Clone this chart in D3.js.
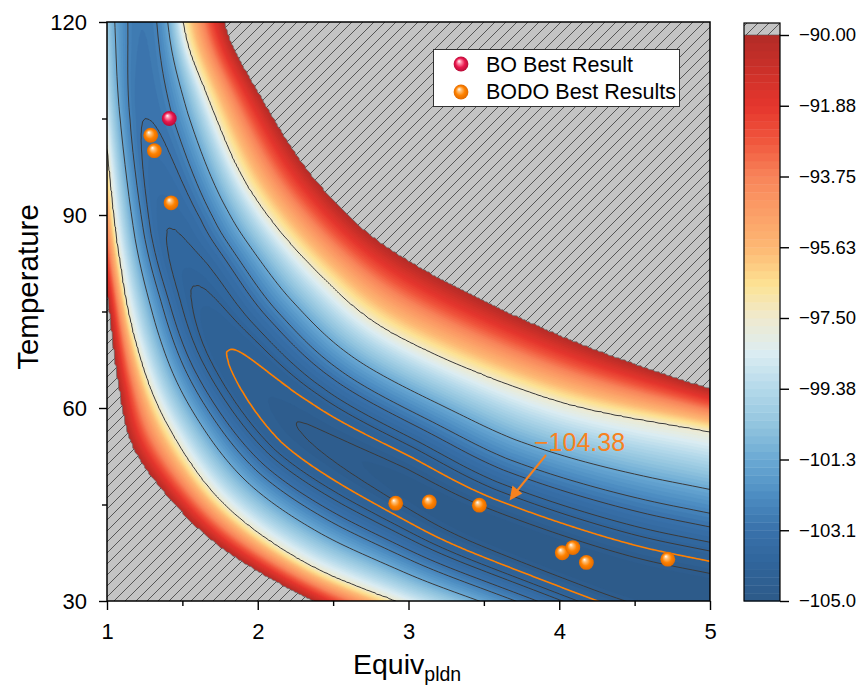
<!DOCTYPE html>
<html>
<head>
<meta charset="utf-8">
<script src="https://cdn.jsdelivr.net/npm/d3@7"></script>
<style>
  body { margin: 0; background: #fff; }
  svg text { font-family: "Liberation Sans", Arial, sans-serif; fill: #000; }
</style>
</head>
<body>
<svg id="chart" width="862" height="687"></svg>
<script>
// ---- values ----
const xTicks = [1, 2, 3, 4, 5];
const xMinor = [1.5, 2.5, 3.5, 4.5];
const yTicks = [30, 60, 90, 120];
const yMinor = [45, 75, 105];
const barTicks = [-90, -91.875, -93.75, -95.625, -97.5, -99.375, -101.25, -103.125, -105];
const barLabels = ["−90.00", "−91.88", "−93.75", "−95.63", "−97.50", "−99.38", "−101.3", "−103.1", "−105.0"];

// best results
const boEquiv = [1.413];
const boTemp = [105.0];
const bodoEquiv = [1.29, 1.314, 1.425, 2.915, 3.138, 3.47, 4.02, 4.09, 4.18, 4.72];
const bodoTemp = [102.4, 100.0, 91.9, 45.2, 45.4, 44.9, 37.5, 38.3, 36.0, 36.5];

// response surface, read as: valley floor line with its depth,
// the -97.5 contour and the -90 limit on each side of the valley
const valleyEquiv = [1.21, 1.23, 1.25, 1.407, 1.573, 1.805, 2.26, 2.94, 3.47, 4.36, 5.0, 5.7];
const valleyTemp = [140, 120, 104.9, 87.9, 78.9, 69.0, 57.8, 48.6, 42.2, 34.4, 30.8, 27.5];
const valleyFloor = [-102.6, -102.9, -103.13, -103.75, -104.06, -104.38, -104.69, -104.85, -104.93, -104.98, -105.0, -105.0];

const upperMidEquiv = [1.47, 1.504, 1.65, 1.949, 2.413, 2.944, 3.972, 5.0, 5.7];
const upperMidTemp = [135, 120, 109.4, 93.9, 80.7, 71.0, 61.2, 56.3, 53.0];
const upperEdgeEquiv = [1.70, 1.783, 2.002, 2.40, 2.944, 3.972, 5.0, 5.7];
const upperEdgeTemp = [135, 120, 109.3, 95.1, 83.8, 71.7, 63.1, 59.0];

const lowerMidEquiv = [0.90, 0.92, 1.0, 1.073, 1.186, 1.385, 1.75, 2.28, 2.91, 4.0, 5.5];
const lowerMidTemp = [135, 120, 100.1, 84.6, 70.6, 58.1, 45.7, 36.4, 30.0, 20.5, 3.0];
const lowerEdgeEquiv = [0.73, 0.755, 0.874, 0.954, 1.007, 1.07, 1.17, 1.45, 1.80, 2.36, 2.9, 4.0, 5.5];
const lowerEdgeTemp = [135, 120, 100.1, 84.6, 76.0, 64.0, 53.9, 44.9, 37.5, 30.0, 25.0, 16.0, 0.0];

const midLevel = -97.5;
const edgeLevel = -90;
const lineLevels = [-104.69, -104.06, -103.75, -103.13, -102.5, -101.25, -97.5];
const markedLevel = -104.38;

// colour map of the bar
const colorStops = [-105, -104, -103.1, -102.2, -101.3, -100.3, -99.38, -98.4, -97.5, -96.6, -95.63, -94.6, -93.75, -92.8, -91.88, -90.9, -90];
const colorHex = ["#2d5a88", "#30659b", "#3972ab", "#4d8dc2", "#69a8d3", "#93c5df", "#b4d9ea", "#dcedf2", "#efeacf", "#fde293", "#fdb873", "#fb9c66", "#f8845a", "#f0563d", "#e5362d", "#cb3029", "#b22c27"];

// ---- chart ----
const x = d3.scaleLinear().domain([1, 5]).range([107, 710]);
const y = d3.scaleLinear().domain([30, 120]).range([601, 22]);
const color = d3.scaleLinear().domain(colorStops).range(colorHex).interpolate(d3.interpolateRgb);

const svg = d3.select("#chart");
const defs = svg.append("defs");

const hatch = defs.append("pattern").attr("id", "hatch")
  .attr("patternUnits", "userSpaceOnUse").attr("width", 11).attr("height", 11);
hatch.append("rect").attr("width", 11).attr("height", 11).attr("fill", "#c4c4c4");
hatch.append("path").attr("d", "M0,11 L11,0 M-2,2 L2,-2 M9,13 L13,9")
  .attr("stroke", "#4a4a4a").attr("stroke-width", 0.9);

defs.append("clipPath").attr("id", "plotClip").append("rect")
  .attr("x", 107).attr("y", 22).attr("width", 603).attr("height", 579);

function ball(id, light, base, dark) {
  const g = defs.append("radialGradient").attr("id", id)
    .attr("cx", "50%").attr("cy", "50%").attr("r", "50%").attr("fx", "36%").attr("fy", "30%");
  g.append("stop").attr("offset", "0%").attr("stop-color", "#ffffff");
  g.append("stop").attr("offset", "25%").attr("stop-color", light);
  g.append("stop").attr("offset", "62%").attr("stop-color", base);
  g.append("stop").attr("offset", "100%").attr("stop-color", dark);
}
ball("ballBodo", "#ffc27a", "#ff8200", "#e06a00");
ball("ballBo", "#ff8fab", "#ea174d", "#b80c38");

// sample a curve through the read points (Catmull-Rom) into a quadtree
function sampleCurve(E, T) {
  const p = E.map((e, i) => [x(e), y(T[i])]);
  const n = p.length, out = [];
  for (let i = 0; i < n - 1; i++) {
    const p0 = p[Math.max(i - 1, 0)], p1 = p[i], p2 = p[i + 1], p3 = p[Math.min(i + 2, n - 1)];
    const steps = Math.ceil(Math.hypot(p2[0] - p1[0], p2[1] - p1[1]) / 1.5);
    for (let k = 0; k < steps; k++) {
      const t = k / steps;
      const q = [0, 1].map(j => 0.5 * (2 * p1[j] + (p2[j] - p0[j]) * t
        + (2 * p0[j] - 5 * p1[j] + 4 * p2[j] - p3[j]) * t * t
        + (3 * p1[j] - p0[j] - 3 * p2[j] + p3[j]) * t * t * t));
      out.push({ x: q[0], y: q[1], u: i + t });
    }
  }
  out.push({ x: p[n - 1][0], y: p[n - 1][1], u: n - 1 });
  out.forEach((d, i) => {
    const a = out[Math.max(i - 1, 0)], b = out[Math.min(i + 1, out.length - 1)];
    const l = Math.hypot(b.x - a.x, b.y - a.y) || 1;
    d.tx = (b.x - a.x) / l;
    d.ty = (b.y - a.y) / l;
  });
  return d3.quadtree().x(d => d.x).y(d => d.y).addAll(out);
}

function near(tree, px, py) {
  const d = tree.find(px, py);
  const vx = px - d.x, vy = py - d.y;
  return { d: d, dist: Math.hypot(vx, vy), side: d.tx * vy - d.ty * vx };
}

const valleyTree = sampleCurve(valleyEquiv, valleyTemp);
const upperMidTree = sampleCurve(upperMidEquiv, upperMidTemp);
const upperEdgeTree = sampleCurve(upperEdgeEquiv, upperEdgeTemp);
const lowerMidTree = sampleCurve(lowerMidEquiv, lowerMidTemp);
const lowerEdgeTree = sampleCurve(lowerEdgeEquiv, lowerEdgeTemp);
const nV = valleyFloor.length;

function surface(px, py) {
  const c = near(valleyTree, px, py);
  const up = c.side < 0;
  const i0 = Math.min(Math.floor(c.d.u), nV - 2), fr = c.d.u - i0;
  const floor = valleyFloor[i0] * (1 - fr) + valleyFloor[i0 + 1] * fr;
  const pw = up ? 2.6 - Math.max(0, Math.min(1, (c.d.u - 1) / 7)) : 2.15;
  const m = near(up ? upperMidTree : lowerMidTree, px, py);
  if (up ? m.side > 0 : m.side < 0) {
    const r = c.dist / (c.dist + m.dist);
    return floor + (midLevel - floor) * Math.pow(r, pw);
  }
  const e = near(up ? upperEdgeTree : lowerEdgeTree, px, py);
  if (up ? e.side > 0 : e.side < 0) {
    return midLevel + (edgeLevel - midLevel) * m.dist / (m.dist + e.dist);
  }
  return edgeLevel + 1;
}

// grid in pixel space, a bit larger than the plot
const cell = 2, gx0 = 95, gy0 = 10;
const nx = Math.ceil((722 - gx0) / cell) + 1;
const ny = Math.ceil((613 - gy0) / cell) + 1;
const values = new Float64Array(nx * ny);
for (let j = 0; j < ny; j++) {
  for (let i = 0; i < nx; i++) {
    values[j * nx + i] = surface(gx0 + i * cell, gy0 + j * cell);
  }
}
const path = d3.geoPath(d3.geoIdentity().scale(cell).translate([gx0 - cell / 2, gy0 - cell / 2]));

const nBands = 72, step = 15 / nBands;
const bandThresholds = d3.range(1, nBands + 1).map(k => k === nBands ? -90 : -105 + k * step);

const plot = svg.append("g").attr("clip-path", "url(#plotClip)");
plot.append("rect").attr("x", 107).attr("y", 22).attr("width", 603).attr("height", 579)
  .attr("fill", color(-105 + step / 2));
plot.selectAll("path.band")
  .data(d3.contours().size([nx, ny]).thresholds(bandThresholds)(values))
  .join("path")
  .attr("class", "band")
  .attr("d", path)
  .attr("fill", d => d.value >= -90 ? "url(#hatch)" : color(d.value + step / 2))
  .attr("stroke", d => d.value >= -90 ? "none" : color(d.value + step / 2))
  .attr("stroke-width", 0.3);

plot.selectAll("path.iso")
  .data(d3.contours().size([nx, ny]).thresholds(lineLevels.slice().sort(d3.ascending))(values))
  .join("path")
  .attr("class", "iso")
  .attr("d", path)
  .attr("fill", "none")
  .attr("stroke", "#3a3a3a")
  .attr("stroke-width", 1);

plot.append("path")
  .datum(d3.contours().size([nx, ny]).contour(values, markedLevel))
  .attr("d", path)
  .attr("fill", "none")
  .attr("stroke", "#ff8000")
  .attr("stroke-width", 1.6);

plot.append("path")
  .datum(d3.contours().size([nx, ny]).contour(values, edgeLevel))
  .attr("d", path)
  .attr("fill", "none")
  .attr("stroke", "#666")
  .attr("stroke-width", 0.7);

// frame and axes
svg.append("rect").attr("x", 107).attr("y", 22).attr("width", 603).attr("height", 579)
  .attr("fill", "none").attr("stroke", "#000").attr("stroke-width", 1.5);

function styleAxis(g, size) {
  g.select(".domain").remove();
  g.selectAll("line").attr("stroke", "#000").attr("stroke-width", 1.4);
  g.selectAll("text").attr("font-size", size).attr("font-family", "Liberation Sans, Arial, sans-serif");
}

svg.append("g").attr("transform", "translate(0,601)")
  .call(d3.axisBottom(x).tickValues(xTicks).tickSize(9).tickPadding(13).tickFormat(d3.format("d")))
  .call(g => styleAxis(g, "22px"));
svg.append("g").attr("transform", "translate(0,601)")
  .call(d3.axisBottom(x).tickValues(xMinor).tickSize(5).tickFormat(""))
  .call(g => styleAxis(g, "22px"));
svg.append("g").attr("transform", "translate(107,0)")
  .call(d3.axisLeft(y).tickValues(yTicks).tickSize(8).tickPadding(12).tickFormat(d3.format("d")))
  .call(g => styleAxis(g, "22px"));
svg.append("g").attr("transform", "translate(107,0)")
  .call(d3.axisLeft(y).tickValues(yMinor).tickSize(5).tickFormat(""))
  .call(g => styleAxis(g, "22px"));

const xTitle = svg.append("text").attr("x", 353).attr("y", 674).attr("font-size", "28.5px");
xTitle.append("tspan").text("Equiv");
xTitle.append("tspan").attr("dy", 7).attr("font-size", "19.5px").text("pldn");

svg.append("text")
  .attr("transform", "translate(38,287) rotate(-90)")
  .attr("text-anchor", "middle")
  .attr("font-size", "29.5px")
  .text("Temperature");

// annotation of the marked contour
svg.append("text").attr("x", 534).attr("y", 451).attr("font-size", "25px")
  .style("fill", "#f7821f").text("−104.38");
svg.append("line").attr("x1", 546).attr("y1", 455).attr("x2", 516).attr("y2", 492)
  .attr("stroke", "#f7821f").attr("stroke-width", 2);
svg.append("path").attr("d", "M509.5,500.5 L512.4,485.6 L522.3,493.6 Z").attr("fill", "#f7821f");

// best result markers
svg.append("g").selectAll("circle")
  .data(bodoEquiv.map((e, i) => [e, bodoTemp[i]]))
  .join("circle")
  .attr("cx", d => x(d[0])).attr("cy", d => y(d[1])).attr("r", 7.4)
  .attr("fill", "url(#ballBodo)");
svg.append("g").selectAll("circle")
  .data(boEquiv.map((e, i) => [e, boTemp[i]]))
  .join("circle")
  .attr("cx", d => x(d[0])).attr("cy", d => y(d[1])).attr("r", 7.4)
  .attr("fill", "url(#ballBo)");

// legend
const legend = svg.append("g");
legend.append("rect").attr("x", 433.5).attr("y", 49.5).attr("width", 246).attr("height", 57)
  .attr("fill", "#fff").attr("stroke", "#333").attr("stroke-width", 1);
legend.append("circle").attr("cx", 461).attr("cy", 64).attr("r", 7.4).attr("fill", "url(#ballBo)");
legend.append("circle").attr("cx", 461).attr("cy", 92).attr("r", 7.4).attr("fill", "url(#ballBodo)");
legend.append("text").attr("x", 486).attr("y", 71.7).attr("font-size", "21.5px").text("BO Best Result");
legend.append("text").attr("x", 486).attr("y", 98.8).attr("font-size", "21.5px").text("BODO Best Results");

// colour bar
const cb = d3.scaleLinear().domain([-105, -90]).range([601, 35]);
const bar = svg.append("g");
bar.selectAll("rect.cb")
  .data(d3.range(nBands))
  .join("rect")
  .attr("class", "cb")
  .attr("x", 744).attr("width", 36)
  .attr("y", k => cb(-105 + (k + 1) * step))
  .attr("height", cb(-105) - cb(-105 + step) + 0.4)
  .attr("fill", k => color(-105 + (k + 0.5) * step));
bar.append("rect").attr("x", 744).attr("y", 23).attr("width", 36).attr("height", 12)
  .attr("fill", "url(#hatch)");
bar.append("line").attr("x1", 744).attr("x2", 780).attr("y1", 35).attr("y2", 35)
  .attr("stroke", "#555").attr("stroke-width", 0.6);
bar.append("rect").attr("x", 744).attr("y", 23).attr("width", 36).attr("height", 578)
  .attr("fill", "none").attr("stroke", "#000").attr("stroke-width", 1.2);
bar.append("g").attr("transform", "translate(780,0)")
  .call(d3.axisRight(cb).tickValues(barTicks).tickSize(9).tickPadding(10)
    .tickFormat((d, i) => barLabels[i]))
  .call(g => styleAxis(g, "18.5px"));
</script>
</body>
</html>
